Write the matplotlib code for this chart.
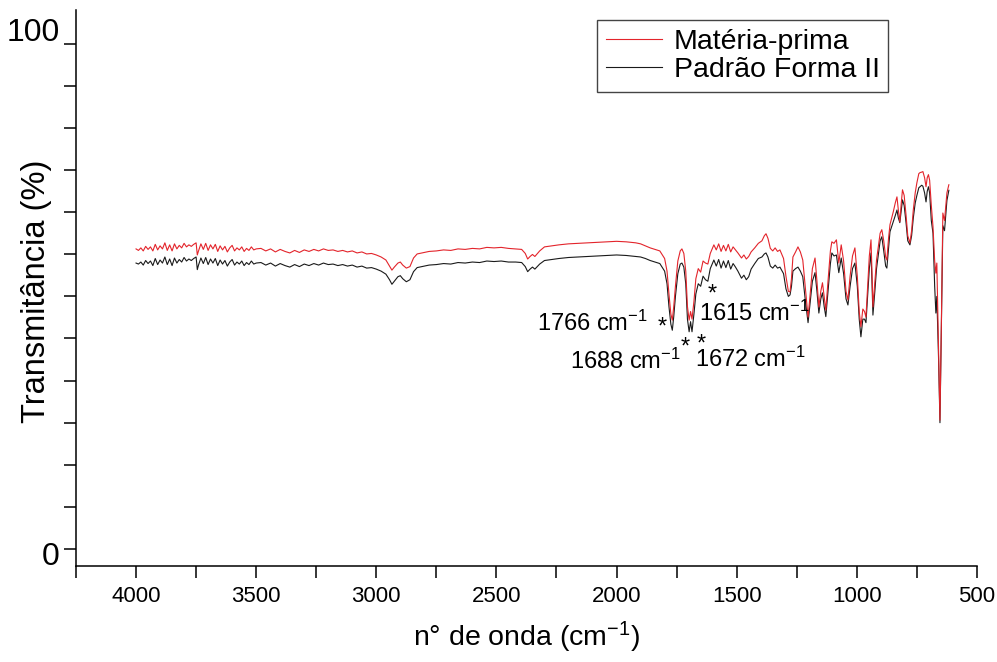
"""FTIR spectrum: Matéria-prima vs Padrão Forma II"""

import numpy as np
import matplotlib
matplotlib.use("Agg")
import matplotlib.pyplot as plt
from matplotlib.ticker import FixedLocator, MultipleLocator
from matplotlib.transforms import ScaledTranslation

plt.rcParams["font.family"] = ["Liberation Sans", "DejaVu Sans"]
plt.rcParams["mathtext.fontset"] = "custom"
plt.rcParams["mathtext.rm"] = "Liberation Sans"
plt.rcParams["mathtext.it"] = "Liberation Sans:italic"
plt.rcParams["mathtext.default"] = "regular"

# Wavenumbers (cm-1), split by region
WN_HIGH = [4000, 3990, 3980, 3970, 3960, 3950, 3940, 3930, 3920, 3910,
           3900, 3890, 3880, 3870, 3860, 3850, 3840, 3830, 3820, 3810,
           3800, 3790, 3780, 3770, 3760, 3750, 3745, 3740, 3730, 3720,
           3710, 3700, 3690, 3680, 3670, 3660, 3650, 3640, 3630, 3620,
           3610, 3600, 3590, 3580, 3570, 3560, 3550, 3540, 3530, 3520,
           3510, 3500, 3480, 3460, 3440, 3420, 3400, 3380, 3360, 3340,
           3320, 3300, 3280, 3260, 3240, 3220, 3200, 3180, 3160, 3140,
           3120, 3100, 3080, 3060, 3040, 3020, 3000]
WN_MID = [2980, 2960, 2945, 2935, 2925, 2910, 2900, 2890, 2875, 2860,
          2845, 2830, 2810, 2780, 2750, 2720, 2690, 2660, 2630, 2600,
          2570, 2540, 2510, 2480, 2450, 2420, 2395, 2380, 2370, 2360,
          2350, 2340, 2320, 2300, 2270, 2240, 2200, 2160, 2120, 2080,
          2040, 2000, 1960, 1920, 1900, 1880, 1860, 1840, 1820]
WN_CO = [1800, 1790, 1782, 1774, 1768, 1762, 1755, 1745, 1735, 1728,
         1720, 1712, 1705, 1698, 1692, 1686, 1678, 1670, 1660, 1650,
         1640, 1630, 1620, 1610]
WN_FP = [1595, 1585, 1575, 1565, 1555, 1545, 1535, 1525, 1515, 1505,
         1495, 1480, 1470, 1460, 1450, 1440, 1425, 1410, 1395, 1385,
         1378, 1370, 1360, 1350, 1340, 1330, 1320, 1305, 1295, 1285,
         1278, 1272, 1266, 1255, 1245, 1235, 1225, 1215, 1203, 1195,
         1185, 1174, 1166, 1158, 1150, 1143, 1136, 1129, 1120, 1110,
         1104, 1095, 1085, 1075, 1065, 1055, 1045, 1037, 1028, 1018, 1008]
WN_LOW = [998, 990, 983, 975, 968, 962, 955, 948, 941, 937,
          933, 925, 918, 910, 903, 896, 888, 880, 875, 868,
          862, 848, 840, 833, 827, 821, 815, 810, 803, 795,
          788, 779, 772, 765, 757, 750, 742, 737, 730, 725,
          718, 712, 707, 702, 697, 690, 683, 676, 671, 667,
          660, 654, 648, 642, 635, 625, 617]

# Transmittance (%) - Matéria-prima (red)
MP_HIGH = [59.4, 59.1, 59.6, 59.0, 59.9, 59.3, 59.8, 59.0, 60.3, 59.2,
           60.0, 59.4, 60.6, 59.1, 60.2, 59.0, 60.4, 59.4, 60.1, 59.6,
           60.5, 59.8, 60.2, 59.9, 60.3, 60.6, 58.2, 59.0, 60.4, 59.3,
           60.5, 59.1, 60.2, 59.4, 60.3, 58.9, 60.0, 59.2, 59.9, 58.8,
           59.6, 60.1, 59.0, 59.6, 59.2, 59.8, 58.9, 59.5, 59.1, 59.8,
           59.2, 59.4, 59.5, 59.0, 59.4, 58.8, 59.3, 58.9, 58.6, 59.1,
           58.7, 59.2, 58.9, 59.3, 59.0, 59.4, 59.1, 59.2, 58.9, 59.1,
           58.8, 59.0, 58.6, 58.8, 58.4, 58.5, 58.2]
MP_MID = [57.8, 57.2, 56.0, 55.2, 55.8, 56.6, 56.8, 56.2, 55.6, 55.9,
          57.6, 58.4, 58.6, 58.9, 59.0, 59.2, 59.1, 59.4, 59.3, 59.5,
          59.4, 59.7, 59.6, 59.7, 59.5, 59.4, 59.3, 58.5, 57.4, 57.9,
          58.3, 57.9, 59.0, 59.8, 60.0, 60.2, 60.4, 60.5, 60.6, 60.7,
          60.8, 60.9, 60.8, 60.6, 60.4, 60.0, 59.6, 59.3, 59.0]
MP_CO = [57.5, 55.0, 50.5, 46.5, 45.3, 48.0, 52.0, 57.0, 59.0, 59.4,
         58.5, 55.0, 48.0, 45.3, 47.0, 45.5, 49.0, 53.5, 55.5, 54.8,
         57.0, 56.6, 56.4, 58.5]
MP_FP = [60.2, 59.2, 60.4, 58.9, 60.1, 59.0, 60.3, 58.8, 59.8, 59.2,
         58.6, 57.6, 58.2, 57.4, 57.9, 58.8, 59.6, 60.5, 61.0, 62.0,
         62.4, 61.5, 59.5, 59.0, 59.6, 58.9, 59.2, 57.5, 54.0, 51.0,
         50.9, 53.5, 57.8, 58.8, 59.8, 58.8, 57.2, 52.0, 45.9, 50.0,
         55.5, 57.6, 53.0, 47.9, 51.0, 52.7, 50.0, 47.3, 53.0, 59.0,
         60.8, 60.5, 61.2, 56.6, 60.2, 57.0, 51.0, 49.3, 54.0, 58.0, 59.6]
MP_LOW = [54.0, 47.0, 44.0, 47.5, 47.0, 45.9, 52.0, 58.0, 61.2, 55.0,
          47.9, 53.0, 57.2, 60.0, 62.5, 63.2, 61.0, 57.8, 57.2, 61.5,
          64.2, 66.8, 68.5, 69.7, 67.0, 64.8, 68.5, 71.1, 70.0, 66.0,
          62.0, 60.6, 63.0, 67.1, 70.5, 72.5, 74.3, 74.5, 74.6, 74.7,
          73.5, 71.7, 73.5, 74.1, 73.0, 68.0, 63.8, 57.0, 54.6, 56.6,
          40.0, 25.5, 45.0, 66.5, 65.0, 70.5, 72.1]

# Transmittance (%) - Padrão Forma II (black)
PF_HIGH = [56.6, 56.4, 56.8, 56.2, 57.1, 56.5, 57.0, 56.1, 57.5, 56.3,
           57.2, 56.6, 57.8, 56.3, 57.4, 56.1, 57.6, 56.6, 57.3, 56.8,
           57.7, 57.0, 57.4, 57.1, 57.5, 57.8, 55.3, 56.2, 57.6, 56.5,
           57.7, 56.3, 57.4, 56.6, 57.5, 56.1, 57.2, 56.4, 57.1, 56.0,
           56.8, 57.3, 56.2, 56.8, 56.4, 57.0, 56.1, 56.7, 56.3, 57.0,
           56.4, 56.6, 56.7, 56.2, 56.6, 56.0, 56.5, 56.1, 55.8, 56.3,
           55.9, 56.4, 56.1, 56.5, 56.2, 56.6, 56.3, 56.4, 56.1, 56.3,
           56.0, 56.2, 55.8, 56.0, 55.6, 55.7, 55.4]
PF_MID = [55.0, 54.4, 53.3, 52.4, 53.0, 53.9, 54.1, 53.5, 52.9, 53.3,
          54.9, 55.7, 55.9, 56.2, 56.3, 56.5, 56.4, 56.7, 56.6, 56.8,
          56.7, 57.0, 56.9, 57.0, 56.8, 56.8, 56.7, 55.9, 54.9, 55.4,
          55.8, 55.4, 56.4, 57.1, 57.3, 57.5, 57.7, 57.8, 57.9, 58.0,
          58.1, 58.2, 58.1, 57.9, 57.8, 57.5, 57.1, 56.8, 56.5]
PF_CO = [55.0, 52.5, 48.0, 44.5, 43.3, 46.0, 50.0, 54.5, 56.4, 56.6,
         55.8, 52.5, 45.5, 43.0, 45.0, 43.0, 46.5, 50.5, 52.5, 52.0,
         54.0, 53.3, 53.0, 55.5]
PF_FP = [57.2, 56.0, 57.3, 55.6, 57.0, 55.7, 57.1, 55.4, 56.5, 55.8,
         55.0, 53.6, 54.2, 53.3, 53.9, 55.4, 56.5, 57.5, 57.8, 58.4,
         58.6, 57.8, 56.0, 55.6, 56.2, 55.6, 55.8, 54.5, 51.5, 50.0,
         50.3, 52.0, 55.0, 55.5, 55.8, 55.0, 53.9, 49.5, 44.8, 48.5,
         53.0, 54.7, 51.0, 46.7, 49.5, 50.7, 48.0, 46.0, 51.0, 56.5,
         58.6, 58.0, 58.2, 54.7, 57.6, 54.5, 49.5, 48.3, 52.0, 55.5, 56.6]
PF_LOW = [52.0, 45.5, 42.0, 45.5, 45.5, 44.8, 50.0, 55.5, 58.6, 53.0,
          46.3, 51.0, 55.5, 58.5, 61.0, 61.8, 59.0, 56.0, 55.6, 59.5,
          62.8, 64.8, 66.0, 67.1, 65.5, 64.6, 67.0, 69.1, 68.0, 64.5,
          61.0, 60.2, 62.0, 65.5, 68.5, 70.0, 71.5, 71.7, 72.0, 71.8,
          70.5, 68.7, 70.8, 71.7, 70.5, 65.0, 62.5, 52.0, 46.7, 50.0,
          38.0, 25.0, 44.0, 64.0, 63.0, 69.0, 71.0]

X_TICKS = [4000, 3500, 3000, 2500, 2000, 1500, 1000, 500]
Y_TICKS = list(np.linspace(0, 100, 13))
Y_LABELS = ["0"] + [""] * 11 + ["100"]

# peak annotations: text, x, y (baseline)
PEAK_TEXT = [("1766 cm$^{-1}$", 2331, 43.1),
             ("1688 cm$^{-1}$", 2194, 35.7),
             ("1672 cm$^{-1}$", 1674, 36.1),
             ("1615 cm$^{-1}$", 1657, 45.2)]
STARS = [(1811, 42.7), (1715, 38.7), (1649, 39.3), (1603, 49.2)]

wn = np.array(WN_HIGH + WN_MID + WN_CO + WN_FP + WN_LOW)
mp = np.array(MP_HIGH + MP_MID + MP_CO + MP_FP + MP_LOW)
pf = np.array(PF_HIGH + PF_MID + PF_CO + PF_FP + PF_LOW)

fig = plt.figure(figsize=(9.97, 6.62), dpi=100)
ax = fig.add_axes([0.0762, 0.1455, 0.9037, 0.8395])

line_pf, = ax.plot(wn, pf, color="#1a1a1a", lw=0.8)
line_mp, = ax.plot(wn, mp, color="#e3242b", lw=0.8)

ax.set_xlim(4250, 500)
ax.set_ylim(-3.3, 106.7)

ax.xaxis.set_major_locator(FixedLocator(X_TICKS))
ax.xaxis.set_minor_locator(MultipleLocator(250))
ax.set_yticks(Y_TICKS, Y_LABELS)

ax.tick_params(axis="both", which="both", direction="out", length=8.5, width=1.1)
ax.tick_params(axis="x", labelsize=16, pad=6)
ax.tick_params(axis="y", labelsize=23, pad=3)

# the "100" label sits above its tick, the "0" a bit below
for lbl, dy in zip(ax.get_yticklabels(), [-3] + [0] * 11 + [10]):
    lbl.set_transform(lbl.get_transform() + ScaledTranslation(0, dy / 72, fig.dpi_scale_trans))

for side in ["top", "right"]:
    ax.spines[side].set_visible(False)
for side in ["left", "bottom"]:
    ax.spines[side].set_linewidth(1.1)

ax.set_xlabel("n° de onda (cm$^{-1}$)", fontsize=20.5, labelpad=9)
ax.set_ylabel("Transmitância (%)", fontsize=23.5)
ax.yaxis.set_label_coords(-0.027, 0.4934)

for txt, x, y in PEAK_TEXT:
    ax.text(x, y, txt, fontsize=17, ha="left", va="baseline")
for x, y in STARS:
    ax.text(x, y, "*", fontsize=17, ha="center", va="baseline")

leg = ax.legend([line_mp, line_pf], ["Matéria-prima", "Padrão Forma II"],
                loc="upper left", bbox_to_anchor=(597 / 997, 1 - 20 / 662),
                bbox_transform=fig.transFigure, fontsize=20.5, frameon=True,
                fancybox=False, edgecolor="#444444", framealpha=1,
                borderpad=0.3, labelspacing=0.1, handlelength=2.0,
                handletextpad=0.4, borderaxespad=0)
leg.get_frame().set_linewidth(1.0)

fig.savefig("out.png", dpi=100)
